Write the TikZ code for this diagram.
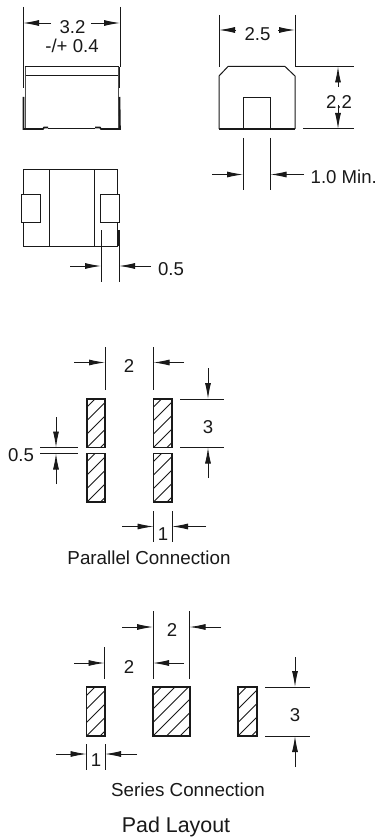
\documentclass[tikz,border=0pt]{standalone}
\usepackage{fontspec}
\setmainfont{Liberation Sans}
\usetikzlibrary{arrows.meta}
\tikzset{
  ln/.style={line width=1pt,black!90},
  thick body/.style={line width=1.6pt,black!90},
  dimline/.style={line width=0.9pt,black!90,-{Latex[length=16pt,width=6pt]}},
  lbl/.style={font=\fontsize{18.6pt}{20pt}\selectfont,inner sep=0pt,text=black!90},
  captxt/.style={font=\fontsize{18.8pt}{20pt}\selectfont,inner sep=0pt,text=black!90},
  titletxt/.style={font=\fontsize{21.4pt}{24pt}\selectfont,inner sep=0pt,text=black!90},
  padbox/.style={line width=1.4pt,black!90},
  hatchline/.style={line width=0.9pt,black!90}
}
\newcommand{\hpad}[4]{%
  \begin{scope}
    \clip (#1,#2) rectangle (#3,#4);
    \foreach \k in {-3,...,12}{
      \draw[hatchline] ({#1+\k*13.5},#4) -- ({#1+\k*13.5+80},{#4-80});
    }
  \end{scope}
  \draw[padbox] (#1,#2) rectangle (#3,#4);
}
\begin{document}
\begin{tikzpicture}[x=1pt,y=-1pt]
\useasboundingbox[fill=white] (0,0) rectangle (378,837);
% top-left view
\draw[ln] (23,7) -- (23,67) (120,7) -- (120,67);
\draw[ln] (24.5,66.5) -- (118.5,66.5) (24.5,76) -- (118.5,76);
\draw[line width=0.6pt,black!70] (25,67) -- (25,129) (118.5,67) -- (118.5,129);
\draw[thick body] (23.5,67) -- (23.5,88) (119.5,67) -- (119.5,88);
\draw[thick body] (23.5,97) -- (23.5,129) -- (43,129) -- (44,127.5) -- (48,127.5) (95,127.5) -- (100,127.5) -- (101,129) -- (120,129) -- (119.5,97);
\draw[ln] (48,128.7) -- (95,128.7);
\coordinate (a1) at (51,23); \coordinate (a2) at (91,23);
\coordinate (e1) at (23,23); \coordinate (e2) at (120,23);
\draw[dimline] (a1) -- (e1);
\draw[dimline] (a2) -- (e2);
\node[lbl] (t32) at (72.5,27) {3.2};
\node[lbl] (t04) at (72,46) {-/+ 0.4};
% top-right view
\draw[ln] (219,15) -- (219,67) (295,15) -- (295,67);
\draw[ln] (219,129) -- (219,76) -- (228,66.5) -- (285,66.5) -- (295,76) -- (295,129);
\draw[thick body] (219,128.8) -- (295,128.8);
\draw[ln] (243,129) -- (243,97.5) -- (270.5,97.5) -- (270.5,129);
\draw[ln] (243,129.3) -- (270.5,129.3);
\draw[ln] (295,66.5) -- (354,66.5) (303,129) -- (354,129);
\coordinate (b1) at (236,30); \coordinate (b1e) at (219,30);
\coordinate (b2) at (278,30); \coordinate (b2e) at (295,30);
\draw[dimline] (b1) -- (b1e);
\draw[dimline] (b2) -- (b2e);
\node[lbl] (t25) at (257.5,34) {2.5};
\coordinate (c1) at (338,87); \coordinate (c1e) at (338,66.5);
\coordinate (c2) at (338,105); \coordinate (c2e) at (338,129);
\draw[dimline] (c1) -- (c1e);
\draw[dimline] (c2) -- (c2e);
\node[lbl] (t22) at (339,102) {2.2};
\draw[ln] (243,138) -- (243,190) (270.5,138) -- (270.5,190);
\coordinate (d1) at (212,174.5); \coordinate (d1e) at (243,174.5);
\coordinate (d2) at (304,174.5); \coordinate (d2e) at (270.5,174.5);
\draw[dimline] (d1) -- (d1e);
\draw[dimline] (d2) -- (d2e);
\node[lbl,anchor=west] (t10) at (310.5,177) {1.0 Min.};
% middle view
\draw[ln] (23,246) -- (23,170) -- (117,170) -- (117,246) -- cycle;
\draw[ln] (49,170) -- (49,246) (94,170) -- (94,246);
\draw[ln,fill=white] (21,194.5) rectangle (40,222);
\draw[ln,fill=white] (100.5,194.5) rectangle (119,222);
\draw[ln] (101,230) -- (101,282) (119,230) -- (119,282);
\draw[thick body] (118.2,230) -- (118.2,246);
\coordinate (f1) at (70,266); \coordinate (f1e) at (101,266);
\coordinate (f2) at (151,266); \coordinate (f2e) at (119,266);
\draw[dimline] (f1) -- (f1e);
\draw[dimline] (f2) -- (f2e);
\node[lbl] (t05) at (171,269.5) {0.5};
% parallel
\hpad{87}{399}{105}{447.5}
\hpad{87}{453.5}{105}{502}
\hpad{153.5}{399}{172}{447.5}
\hpad{153.5}{453.5}{172}{502}
\draw[ln] (105,347) -- (105,390) (153.5,347) -- (153.5,390);
\coordinate (g1) at (74,362.5); \coordinate (g1e) at (105,362.5);
\coordinate (g2) at (184,362.5); \coordinate (g2e) at (153.5,362.5);
\draw[dimline] (g1) -- (g1e);
\draw[dimline] (g2) -- (g2e);
\node[lbl] (p2) at (129,366) {2};
\draw[ln] (180,399) -- (224,399) (180,447.5) -- (224,447.5);
\coordinate (h1) at (208,368); \coordinate (h1e) at (208,399);
\coordinate (h2) at (208,478); \coordinate (h2e) at (208,447.5);
\draw[dimline] (h1) -- (h1e);
\draw[dimline] (h2) -- (h2e);
\node[lbl] (p3) at (208,427) {3};
\draw[ln] (40,447.5) -- (78,447.5) (40,453.5) -- (78,453.5);
\coordinate (i1) at (56,417); \coordinate (i1e) at (56,447.5);
\coordinate (i2) at (56,484); \coordinate (i2e) at (56,453.5);
\draw[dimline] (i1) -- (i1e);
\draw[dimline] (i2) -- (i2e);
\node[lbl] (p05) at (21,455.5) {0.5};
\draw[ln] (153.5,511) -- (153.5,542) (172,511) -- (172,542);
\coordinate (j1) at (122,526.5); \coordinate (j1e) at (153.5,526.5);
\coordinate (j2) at (206,526.5); \coordinate (j2e) at (172,526.5);
\draw[dimline] (j1) -- (j1e);
\draw[dimline] (j2) -- (j2e);
\node[lbl] (p1) at (163,534) {1};
\node[captxt] (pc) at (149,558) {Parallel Connection};
% series
\hpad{86.5}{687}{105}{736}
\hpad{153}{687}{190}{736}
\hpad{238}{687}{257}{736}
\draw[ln] (153,611) -- (153,679) (189.5,611) -- (189.5,679) (104.5,647) -- (104.5,679);
\coordinate (k1) at (122,627); \coordinate (k1e) at (153,627);
\coordinate (k2) at (221,627); \coordinate (k2e) at (189.5,627);
\draw[dimline] (k1) -- (k1e);
\draw[dimline] (k2) -- (k2e);
\node[lbl] (s2a) at (172,630) {2};
\coordinate (l1) at (74,663); \coordinate (l1e) at (104.5,663);
\coordinate (l2) at (184,663); \coordinate (l2e) at (153,663);
\draw[dimline] (l1) -- (l1e);
\draw[dimline] (l2) -- (l2e);
\node[lbl] (s2b) at (129,667) {2};
\draw[ln] (265,687) -- (310,687) (265,736) -- (310,736);
\coordinate (m1) at (295,657); \coordinate (m1e) at (295,687);
\coordinate (m2) at (295,767); \coordinate (m2e) at (295,736);
\draw[dimline] (m1) -- (m1e);
\draw[dimline] (m2) -- (m2e);
\node[lbl] (s3) at (295,715) {3};
\draw[ln] (86.5,744) -- (86.5,770) (105,744) -- (105,770);
\coordinate (n1) at (56,754); \coordinate (n1e) at (86.5,754);
\coordinate (n2) at (137,754); \coordinate (n2e) at (105,754);
\draw[dimline] (n1) -- (n1e);
\draw[dimline] (n2) -- (n2e);
\node[lbl] (s1) at (96,760) {1};
\node[captxt] (sc) at (188,790) {Series Connection};
\node[titletxt] (pl) at (176,827) {Pad Layout};
\end{tikzpicture}
\end{document}
